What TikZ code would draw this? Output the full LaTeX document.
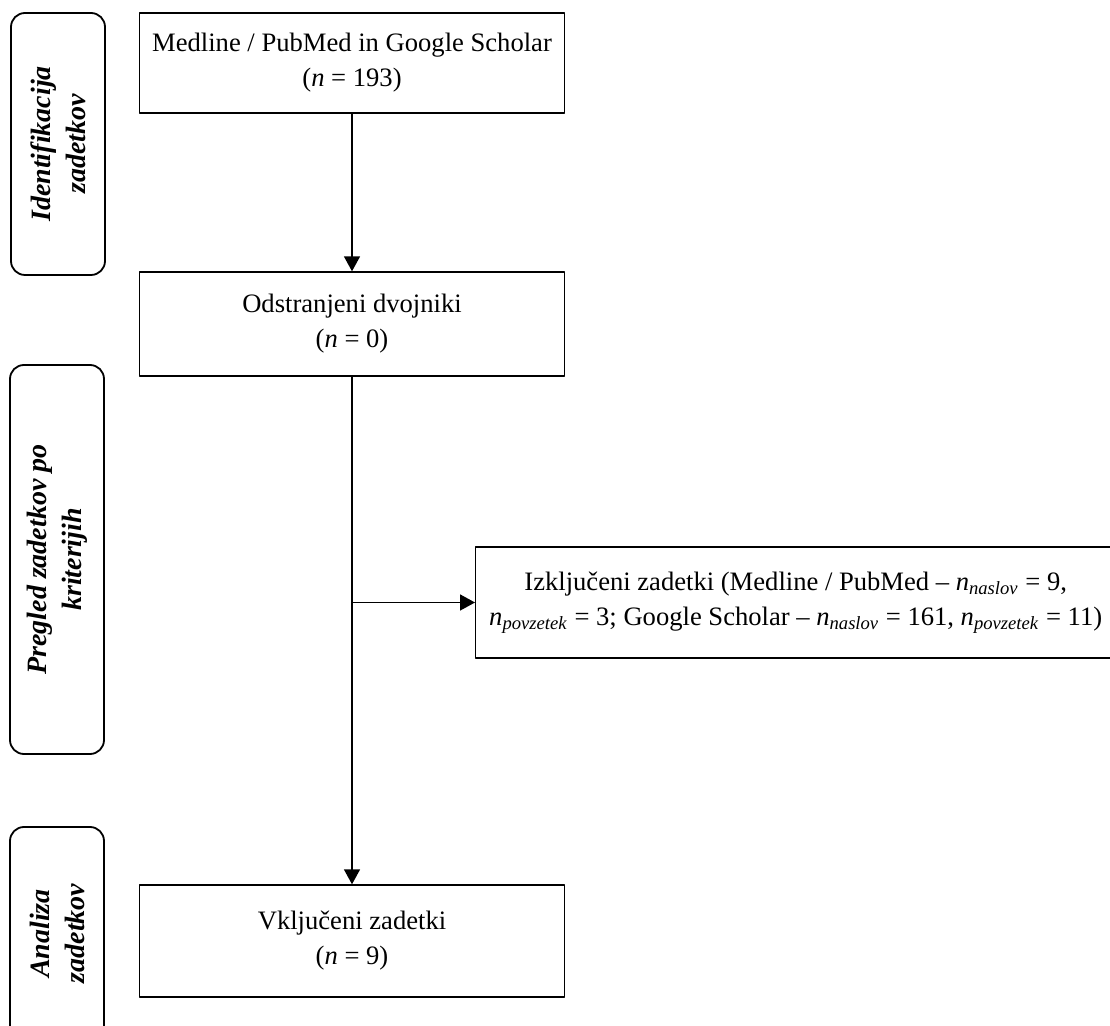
\documentclass[tikz,border=0pt]{standalone}
\usepackage{fontspec}
\setmainfont{Liberation Serif}
\usetikzlibrary{arrows.meta}
\newcommand{\nsub}[1]{\textit{n}\textsubscript{\textit{#1}}}

\begin{document}
\begin{tikzpicture}[x=0.5pt,y=-0.5pt,line cap=round,line join=round,
    font=\fontsize{13.3}{17.5}\selectfont,
    box/.style={draw,line width=0.7pt,align=center,minimum width=212.5pt,inner sep=2pt},
    phase/.style={draw,line width=0.9pt,rounded corners=7pt,rotate=90,align=center,
      minimum height=47pt,font=\fontsize{14}{17.5}\selectfont\bfseries\itshape},
    arr/.style={line width=0.8pt,-{Triangle[length=7.5pt,width=8pt]}}]
  \useasboundingbox (0,0) rectangle (1110,1026);

  % phases on the left
  \node[phase,minimum width=131pt] (ident) at (58,144) {Identifikacija\\zadetkov};
  \node[phase,minimum width=194.5pt] (pregled) at (57,559.5) {Pregled zadetkov po\\kriterijih};
  \node[phase,minimum width=106.5pt] (analiza) at (57,933.5) {Analiza\\zadetkov};

  % flow
  \node[box,minimum height=50pt] (baze) at (352,63) {Medline / PubMed in Google Scholar\\(\textit{n} = 193)};
  \node[box,minimum height=52pt] (dvoj) at (352,324) {Odstranjeni dvojniki\\(\textit{n} = 0)};
  \node[box,minimum height=56pt] (vklj) at (352,941) {Vključeni zadetki\\(\textit{n} = 9)};
  \node[box,minimum width=320pt,minimum height=55.5pt,anchor=west] (izklj) at (475,602.5)
    {Izključeni zadetki (Medline / PubMed – \nsub{naslov} = 9,\\
     \nsub{povzetek} = 3; Google Scholar – \nsub{naslov} = 161, \nsub{povzetek} = 11)};

  \coordinate (razcep) at (dvoj.south |- izklj.west);
  \draw[arr] (baze) -- (dvoj);
  \draw[arr] (dvoj) -- (vklj);
  \draw[arr] (razcep) -- (izklj);
\end{tikzpicture}
\end{document}
